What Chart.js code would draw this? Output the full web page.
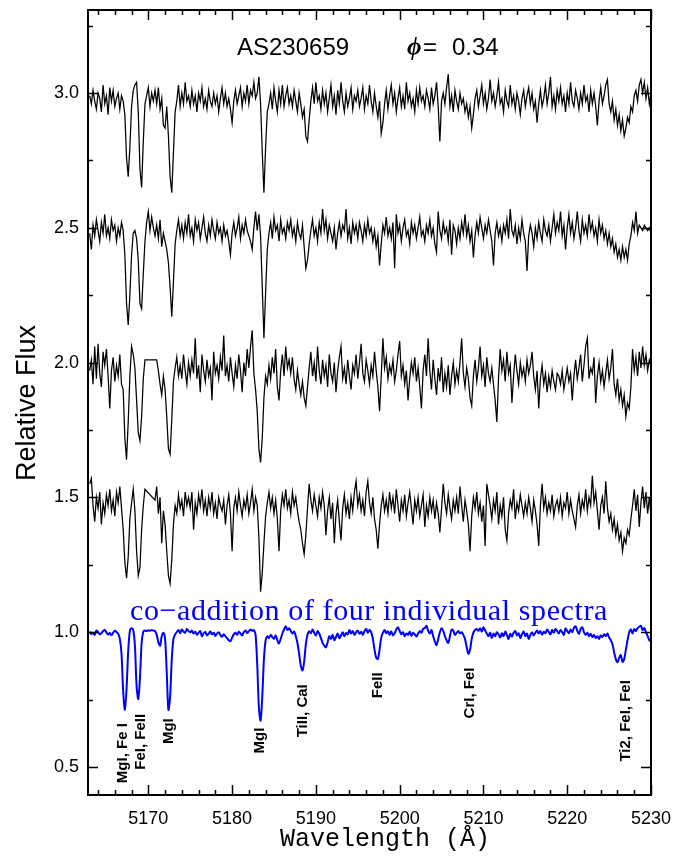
<!DOCTYPE html>
<html>
<head>
<meta charset="utf-8">
<title>AS230659 spectra</title>
<script src="https://cdn.jsdelivr.net/npm/chart.js@4.4.0/dist/chart.umd.min.js"></script>
<style>
  html, body { margin: 0; padding: 0; background: #fff; }
  #wrap { width: 690px; height: 857px; }
</style>
</head>
<body>
<div id="wrap"><canvas id="spec" width="690" height="857"></canvas></div>
<script>
// --- Data ---
// wavelength grid of the spectra (start + step, like CRVAL1/CDELT1)
const WAVE_START = 5163.0;
const WAVE_STEP = 0.2;

const X_TICKS = [5170, 5180, 5190, 5200, 5210, 5220, 5230];
const Y_TICKS = [0.5, 1.0, 1.5, 2.0, 2.5, 3.0];

// individual spectra, each offset by 0.5 in flux
const flux1 = [
  2.99,2.96,3.01,2.97,2.94,3.00,2.98,2.93,3.03,2.96,2.99,2.92,3.02,2.97,3.01,2.95,2.98,3.00,2.94,2.99,
  2.97,2.92,2.76,2.69,2.80,2.95,3.01,3.03,3.04,2.93,2.72,2.65,2.82,2.96,2.99,3.02,2.95,3.00,2.97,3.01,
  2.96,3.02,2.94,2.98,2.88,2.87,2.95,2.84,2.69,2.63,2.78,2.93,2.97,3.03,2.95,3.00,2.96,3.04,2.97,2.99,
  2.95,3.01,2.96,2.99,2.93,3.00,2.97,3.02,2.95,2.98,2.94,3.01,2.97,2.95,3.00,2.96,2.99,2.93,2.98,3.02,
  2.96,3.00,2.95,2.98,2.94,2.89,2.97,3.01,2.96,2.99,3.02,2.95,3.00,2.97,3.03,2.96,3.01,2.99,3.04,2.98,
  3.00,3.06,2.96,2.78,2.63,2.80,2.93,2.96,3.00,2.94,3.02,2.97,2.93,3.01,2.96,3.03,2.95,2.99,3.02,2.96,
  2.99,2.95,3.01,2.97,2.93,3.00,2.96,2.91,2.94,2.84,2.82,2.90,2.97,3.02,2.96,3.04,2.97,2.99,2.94,3.01,
  2.96,3.00,2.93,2.98,3.03,2.95,2.99,2.92,3.01,2.96,3.04,2.97,2.93,3.00,2.95,2.98,3.02,2.94,2.99,2.97,
  3.01,2.95,2.98,3.02,2.94,2.99,2.96,3.03,2.97,2.93,3.00,2.95,2.91,2.97,2.85,2.89,2.96,3.01,2.94,2.99,
  3.03,2.96,3.00,2.93,2.98,3.02,2.95,2.99,2.94,3.04,2.97,3.00,2.95,2.98,2.93,3.01,2.96,3.02,2.97,2.99,
  2.95,3.01,2.98,2.94,3.02,2.96,2.99,3.04,2.95,2.82,2.97,3.00,2.96,3.02,3.07,2.95,2.99,2.93,3.01,2.97,
  2.94,3.00,2.96,2.98,2.93,2.96,2.91,2.95,2.87,2.92,2.98,3.01,2.95,2.99,3.03,2.96,3.00,2.94,2.98,3.05,
  2.97,3.00,2.95,2.99,3.04,2.96,2.98,2.93,3.01,2.97,2.95,3.03,2.96,2.99,2.94,3.00,2.97,2.92,2.98,3.01,
  2.95,2.99,3.02,2.96,3.00,2.94,2.97,2.89,2.96,3.01,2.95,2.98,3.03,2.96,3.00,3.06,2.95,2.99,2.94,3.01,
  2.97,3.02,2.96,2.99,2.93,3.00,2.96,3.04,2.97,2.95,3.01,2.98,2.94,3.00,2.96,3.03,2.97,2.99,2.93,3.01,
  2.96,3.00,2.95,2.88,2.97,3.02,2.96,2.99,3.03,3.05,2.96,2.93,2.97,2.90,2.94,2.88,2.92,2.86,2.90,2.84,
  2.87,2.91,2.89,2.95,2.93,2.99,3.01,2.97,3.03,3.05,3.00,3.04,2.98,3.02,2.96,3.00
];

const flux2 = [
  2.48,2.42,2.51,2.47,2.53,2.49,2.45,2.52,2.48,2.55,2.47,2.50,2.46,2.53,2.49,2.51,2.45,2.50,2.47,2.52,
  2.49,2.40,2.22,2.14,2.25,2.40,2.48,2.49,2.46,2.38,2.22,2.20,2.33,2.45,2.52,2.56,2.49,2.54,2.50,2.47,
  2.51,2.46,2.53,2.43,2.48,2.45,2.42,2.37,2.28,2.17,2.30,2.44,2.49,2.53,2.47,2.51,2.46,2.52,2.48,2.55,
  2.47,2.50,2.45,2.53,2.49,2.52,2.46,2.50,2.54,2.48,2.45,2.51,2.47,2.53,2.49,2.46,2.52,2.48,2.50,2.45,
  2.51,2.47,2.49,2.45,2.40,2.48,2.52,2.47,2.50,2.54,2.46,2.51,2.48,2.53,2.49,2.47,2.45,2.42,2.50,2.56,
  2.49,2.55,2.47,2.28,2.09,2.26,2.42,2.48,2.52,2.46,2.54,2.49,2.51,2.45,2.53,2.48,2.50,2.46,2.52,2.49,
  2.53,2.47,2.50,2.45,2.52,2.48,2.46,2.51,2.43,2.35,2.38,2.44,2.49,2.53,2.47,2.50,2.45,2.52,2.48,2.57,
  2.49,2.53,2.46,2.51,2.48,2.45,2.50,2.42,2.48,2.52,2.47,2.51,2.49,2.57,2.46,2.50,2.44,2.52,2.48,2.51,
  2.46,2.52,2.49,2.45,2.51,2.47,2.53,2.48,2.50,2.45,2.49,2.43,2.47,2.36,2.44,2.51,2.48,2.54,2.47,2.50,
  2.46,2.52,2.35,2.55,2.48,2.51,2.45,2.50,2.53,2.47,2.49,2.44,2.52,2.48,2.51,2.46,2.50,2.54,2.47,2.49,
  2.45,2.51,2.48,2.53,2.47,2.50,2.44,2.41,2.56,2.49,2.46,2.52,2.48,2.50,2.45,2.53,2.40,2.51,2.49,2.44,
  2.50,2.46,2.52,2.48,2.55,2.47,2.51,2.45,2.49,2.39,2.47,2.52,2.48,2.54,2.50,2.46,2.51,2.48,2.53,2.49,
  2.45,2.36,2.48,2.52,2.47,2.50,2.45,2.51,2.48,2.53,2.46,2.57,2.49,2.47,2.51,2.44,2.50,2.46,2.53,2.48,
  2.45,2.34,2.47,2.51,2.48,2.43,2.50,2.46,2.52,2.48,2.45,2.53,2.49,2.47,2.51,2.45,2.50,2.55,2.48,2.52,
  2.49,2.56,2.47,2.51,2.42,2.50,2.55,2.48,2.52,2.46,2.50,2.56,2.49,2.45,2.53,2.48,2.51,2.47,2.55,2.49,
  2.52,2.47,2.50,2.45,2.53,2.48,2.51,2.46,2.49,2.44,2.48,2.43,2.46,2.41,2.44,2.39,2.42,2.38,2.43,2.39,
  2.42,2.38,2.44,2.47,2.52,2.49,2.56,2.48,2.51,2.50,2.49,2.51,2.50,2.49,2.50,2.48
];

// null = pixels missing in the original (bridged by a straight segment)
const flux3 = [
  1.97,2.01,1.92,2.06,1.94,2.07,1.96,1.91,2.04,1.99,2.05,1.95,1.83,1.97,2.02,1.93,1.99,1.95,2.03,1.92,
  1.90,1.72,1.64,1.78,1.95,2.06,2.03,1.98,1.86,1.74,1.71,1.80,1.94,2.01,null,null,null,null,null,null,
  2.01,1.97,1.92,1.88,1.95,1.90,1.80,1.68,1.66,1.79,1.93,1.98,2.02,1.95,1.99,1.94,2.03,1.97,1.92,2.00,
  1.95,2.01,1.96,2.09,1.94,1.99,1.89,2.03,1.97,1.93,2.01,1.95,1.98,1.86,2.04,1.96,1.99,1.94,2.02,1.97,
  2.10,1.95,1.99,1.93,2.02,1.96,1.91,1.99,1.94,2.03,1.97,1.89,2.00,1.95,2.05,1.98,2.06,2.12,1.96,1.90,
  1.82,1.68,1.63,1.72,1.87,1.95,1.92,1.99,1.94,2.02,1.96,2.05,1.91,1.86,1.97,2.03,1.95,2.06,1.98,2.01,
  1.96,2.02,1.94,1.90,1.97,1.92,1.88,1.93,1.87,1.84,1.91,1.98,2.04,1.95,2.00,1.93,2.06,1.97,1.92,2.01,
  1.95,1.99,1.91,2.03,1.96,1.93,2.00,1.89,1.97,2.02,2.06,1.94,1.98,1.92,2.01,1.95,1.90,1.99,1.96,2.03,
  1.94,2.00,2.07,1.96,1.93,2.01,1.97,1.92,1.99,1.95,2.04,1.97,1.91,1.82,1.95,2.09,1.98,2.02,1.94,1.99,
  1.96,2.01,1.93,1.97,2.03,2.08,1.95,1.99,1.92,1.97,1.86,1.94,2.00,1.96,2.02,1.93,1.98,1.91,1.83,1.97,
  2.03,1.95,2.09,1.97,1.90,2.01,1.94,1.88,1.98,1.93,2.02,1.89,1.96,1.91,1.99,1.88,1.95,2.00,1.92,1.97,
  1.93,2.00,2.09,1.96,1.91,1.98,1.94,1.87,1.84,1.95,2.01,1.93,1.98,2.06,1.95,1.99,1.91,2.02,1.96,1.93,
  1.98,1.92,1.86,1.78,1.94,2.05,1.97,2.01,1.93,2.04,1.96,1.99,1.85,1.95,2.03,1.97,1.92,2.00,1.95,1.98,
  1.93,2.01,1.96,1.99,2.04,1.95,1.90,1.97,1.83,1.94,1.99,1.92,1.96,1.89,1.95,1.91,1.97,1.93,1.90,1.96,
  1.95,1.92,1.97,1.90,1.94,1.98,1.93,1.96,1.86,1.95,2.01,1.94,1.98,2.03,1.93,1.99,2.06,2.09,1.94,1.98,
  1.96,2.02,1.85,1.95,2.00,1.93,1.97,1.91,1.96,2.01,1.94,1.98,2.05,1.92,1.88,1.94,1.86,1.90,1.84,1.88,
  1.80,1.85,1.83,1.91,2.05,1.97,2.02,1.95,2.04,1.98,2.06,1.99,2.03,1.97,2.01,1.99
];

const flux4 = [
  1.55,1.57,1.47,1.41,1.50,1.46,1.52,1.40,1.48,1.44,1.51,1.47,1.53,1.45,1.49,1.43,1.52,1.48,1.54,1.46,
  1.38,1.26,1.20,1.28,1.42,1.48,1.53,1.45,1.30,1.21,1.24,1.38,1.47,1.53,null,null,null,null,null,1.49,
  1.54,1.44,1.50,1.33,1.45,1.40,1.30,1.21,1.18,1.27,1.40,1.47,1.44,1.51,1.46,1.49,1.43,1.52,1.47,1.50,
  1.46,1.52,1.38,1.48,1.44,1.51,1.47,1.53,1.45,1.49,1.43,1.50,1.46,1.52,1.44,1.48,1.42,1.50,1.47,1.45,
  1.49,1.40,1.47,1.51,1.44,1.30,1.46,1.50,1.45,1.52,1.47,1.43,1.49,1.46,1.51,1.44,1.48,1.53,1.45,1.50,
  1.47,1.35,1.15,1.22,1.33,1.43,1.48,1.52,1.46,1.50,1.44,1.49,1.42,1.30,1.45,1.51,1.47,1.53,1.46,1.49,
  1.44,1.52,1.47,1.50,1.45,1.41,1.38,1.33,1.29,1.36,1.46,1.55,1.49,1.45,1.51,1.47,1.43,1.50,1.46,1.52,
  1.47,1.36,1.45,1.50,1.42,1.48,1.33,1.44,1.49,1.41,1.34,1.46,1.51,1.44,1.48,1.42,1.50,1.45,1.52,1.56,
  1.47,1.51,1.45,1.49,1.43,1.52,1.56,1.48,1.44,1.50,1.42,1.38,1.31,1.40,1.47,1.51,1.45,1.49,1.44,1.52,
  1.46,1.50,1.44,1.53,1.47,1.41,1.49,1.45,1.51,1.43,1.48,1.52,1.46,1.40,1.49,1.45,1.50,1.43,1.47,1.51,
  1.39,1.47,1.43,1.50,1.45,1.49,1.42,1.48,1.44,1.37,1.46,1.55,1.48,1.44,1.51,1.46,1.42,1.49,1.45,1.50,
  1.44,1.54,1.47,1.41,1.49,1.45,1.40,1.30,1.43,1.50,1.46,1.52,1.44,1.48,1.41,1.47,1.32,1.55,1.51,1.47,
  1.42,1.49,1.45,1.52,1.40,1.47,1.43,1.50,1.38,1.34,1.44,1.49,1.46,1.53,1.42,1.48,1.45,1.51,1.47,1.43,
  1.48,1.44,1.50,1.46,1.41,1.49,1.45,1.40,1.32,1.47,1.55,1.46,1.50,1.44,1.48,1.45,1.51,1.43,1.47,1.49,
  1.45,1.50,1.43,1.48,1.46,1.52,1.44,1.49,1.45,1.42,1.39,1.47,1.51,1.44,1.49,1.46,1.53,1.45,1.50,1.47,
  1.58,1.48,1.52,1.45,1.38,1.47,1.50,1.44,1.56,1.46,1.41,1.44,1.38,1.42,1.36,1.40,1.34,1.37,1.30,1.35,
  1.33,1.38,1.36,1.42,1.47,1.53,1.45,1.51,1.39,1.48,1.54,1.46,1.52,1.44,1.50,1.43
];

// co-addition of the four spectra (blue)
const coadd = [
  1.002,0.993,0.998,0.990,1.006,1.001,0.992,0.996,1.004,1.008,0.999,0.991,0.997,0.989,0.998,1.005,1.001,0.994,0.975,0.920,
  0.780,0.712,0.790,0.930,1.005,1.015,1.008,0.950,0.800,0.752,0.830,0.960,1.002,1.006,1.004,1.007,1.005,1.008,1.006,1.004,
  0.990,0.962,0.950,0.985,0.998,0.975,0.850,0.712,0.760,0.900,0.975,0.992,1.000,1.008,0.996,1.010,1.002,0.998,1.012,1.004,
  1.000,1.006,0.995,1.002,0.990,0.998,1.004,0.985,0.996,1.001,0.988,0.994,1.003,0.992,0.998,0.986,0.995,1.000,0.990,0.983,
  0.992,0.985,0.978,0.970,0.966,0.980,0.992,0.998,0.990,1.002,0.995,0.988,1.000,1.006,0.997,1.004,1.010,1.005,1.008,0.990,
  0.880,0.720,0.672,0.760,0.900,0.970,0.985,0.978,0.990,0.982,0.975,0.988,0.970,0.958,0.975,0.995,1.010,1.022,1.008,1.015,
  1.005,0.995,1.002,0.985,0.960,0.920,0.875,0.858,0.890,0.955,0.990,1.003,0.996,1.010,0.998,0.988,1.004,0.995,0.978,0.960,
  0.950,0.944,0.962,0.985,0.975,0.990,0.970,0.982,0.995,0.978,0.988,1.000,0.985,0.997,0.992,1.008,0.995,1.004,0.990,1.000,
  1.006,0.994,1.002,0.990,1.004,1.012,0.998,1.008,1.000,0.975,0.935,0.905,0.900,0.935,0.980,0.998,1.008,0.996,1.003,0.990,
  1.003,0.988,0.996,1.010,1.018,1.005,0.992,1.000,0.985,0.995,0.990,1.002,0.986,0.998,0.992,0.984,0.995,1.004,0.998,1.012,
  1.015,1.024,1.005,0.995,1.008,0.985,0.965,0.952,0.975,1.000,1.015,1.005,0.985,0.970,0.960,0.985,1.010,1.005,0.990,0.998,
  1.004,0.996,1.000,0.990,0.975,0.945,0.920,0.935,0.975,0.998,1.008,1.012,1.005,1.015,1.002,1.018,1.006,0.995,0.985,0.998,
  0.978,0.995,0.985,1.000,0.992,0.980,0.996,0.985,1.002,0.990,0.975,0.994,0.983,0.998,1.004,0.988,0.996,0.978,0.992,1.002,
  0.985,0.995,0.975,0.990,1.000,0.988,0.998,1.006,0.995,1.004,0.990,1.002,0.996,1.010,1.000,0.992,1.008,0.998,1.012,1.004,
  0.995,1.008,1.000,0.990,1.014,1.004,0.996,1.010,1.000,1.016,1.022,1.005,0.994,1.012,1.018,1.000,0.990,0.998,0.985,0.994,
  0.982,0.990,0.978,0.985,0.975,0.988,0.982,0.992,0.985,0.995,0.980,0.970,0.955,0.925,0.900,0.888,0.905,0.915,0.890,0.900,
  0.935,0.970,1.000,1.010,0.995,1.012,1.004,1.015,1.020,1.024,1.008,1.015,1.000,0.985,0.970,0.965
];

// line identifications: label text, wavelength, flux where the label starts
const LINE_IDS = ['MgI, Fe I', 'FeI, FeII', 'MgI', 'MgI', 'TiII, CaI', 'FeII', 'CrI, FeI', 'Ti2, FeI, FeI'];
const LINE_WAVES = [5166.95, 5169.1, 5172.4, 5183.35, 5188.5, 5197.45, 5208.4, 5226.95];
const LINE_LABEL_FLUX = [0.44, 0.49, 0.585, 0.55, 0.61, 0.755, 0.68, 0.52];

const X_MIN = 5162.8, X_MAX = 5230;
const Y_MIN = 0.396, Y_MAX = 3.308;

// --- build points ---
const WAVE = flux1.map((_, i) => +(WAVE_START + i * WAVE_STEP).toFixed(2));
const toPoints = arr => arr.map((v, i) => ({ x: WAVE[i], y: v }));

const spectrum = (data, color, width) => ({
    data: toPoints(data),
    borderColor: color,
    borderWidth: width,
    pointRadius: 0,
    tension: 0,
    spanGaps: true
});

// --- frame, inward ticks and the text of the figure ---
const decorations = {
    id: 'decorations',
    beforeDraw(chart) {
        const ctx = chart.ctx;
        ctx.save();
        ctx.fillStyle = '#fff';
        ctx.fillRect(0, 0, chart.width, chart.height);
        ctx.restore();
    },
    afterDatasetsDraw(chart) {
        const { ctx, chartArea: a, scales: { x, y } } = chart;
        ctx.save();
        ctx.strokeStyle = '#000';
        ctx.lineWidth = 1.5;
        ctx.beginPath();
        for (let v = 5164; v <= X_MAX; v += 2) {
            const px = Math.round(x.getPixelForValue(v)) + 0.5;
            const len = v % 10 === 0 ? 10 : 5;
            ctx.moveTo(px, a.bottom); ctx.lineTo(px, a.bottom - len);
            ctx.moveTo(px, a.top); ctx.lineTo(px, a.top + len);
        }
        for (let k = 2; k <= 13; k++) {
            const v = k * 0.25;
            const py = Math.round(y.getPixelForValue(v)) + 0.5;
            const len = k % 2 === 0 ? 10 : 5;
            ctx.moveTo(a.left, py); ctx.lineTo(a.left + len, py);
            ctx.moveTo(a.right, py); ctx.lineTo(a.right - len, py);
        }
        ctx.stroke();
        ctx.lineWidth = 2;
        ctx.strokeRect(a.left, a.top, a.right - a.left, a.bottom - a.top);
        ctx.restore();
    },
    afterDraw(chart) {
        const { ctx, scales: { x, y } } = chart;
        ctx.save();
        ctx.fillStyle = '#000';
        ctx.textBaseline = 'middle';

        // title
        ctx.textAlign = 'left';
        ctx.font = '24px "Liberation Sans"';
        ctx.fillText('AS230659', 237, 48);
        ctx.font = 'italic bold 25px "Liberation Serif"';
        ctx.fillText('\u03d5', 407, 49);
        ctx.font = '24px "Liberation Sans"';
        ctx.fillText('=', 423, 48);
        ctx.fillText('0.34', 452, 48);

        // axis titles
        ctx.textAlign = 'center';
        ctx.font = '25px "Liberation Mono"';
        ctx.fillText('Wavelength (\u00c5)', 385, 839);
        ctx.save();
        ctx.translate(28, 403);
        ctx.rotate(-Math.PI / 2);
        ctx.font = '27px "Liberation Sans"';
        ctx.fillText('Relative Flux', 0, 0);
        ctx.restore();

        // co-addition caption
        ctx.fillStyle = '#0000ff';
        ctx.font = '30px "Liberation Serif"';
        ctx.letterSpacing = '0.6px';
        ctx.fillText('co\u2212addition of four individual spectra', 369, 612);
        ctx.letterSpacing = '0px';

        // line identifications
        ctx.fillStyle = '#000';
        ctx.font = 'bold 15px "Liberation Sans"';
        ctx.textAlign = 'left';
        LINE_IDS.forEach((name, k) => {
            const px = x.getPixelForValue(LINE_WAVES[k]);
            const py = y.getPixelForValue(LINE_LABEL_FLUX[k]);
            ctx.save();
            ctx.translate(px, py);
            ctx.rotate(-Math.PI / 2);
            ctx.fillText(name, 0, 0);
            ctx.restore();
        });
        ctx.restore();
    }
};

new Chart(document.getElementById('spec'), {
    type: 'line',
    data: {
        datasets: [
            spectrum(flux1, '#000', 1.25),
            spectrum(flux2, '#000', 1.25),
            spectrum(flux3, '#000', 1.25),
            spectrum(flux4, '#000', 1.25),
            Object.assign(spectrum(coadd, '#0000ff', 2), { tension: 0.3 })
        ]
    },
    options: {
        responsive: false,
        animation: false,
        events: [],
        layout: { padding: { left: 0, right: 39, top: 10, bottom: 0 } },
        plugins: { legend: { display: false }, tooltip: { enabled: false } },
        scales: {
            x: {
                type: 'linear',
                min: X_MIN,
                max: X_MAX,
                afterBuildTicks: s => { s.ticks = X_TICKS.map(v => ({ value: v })); },
                afterFit: s => { s.height = 62; s.paddingLeft = 0; s.paddingRight = 0; },
                grid: { display: false, drawTicks: false },
                border: { display: false },
                ticks: {
                    color: '#000',
                    padding: 13,
                    maxRotation: 0,
                    font: { family: 'Liberation Sans', size: 18 },
                    callback: v => String(v)
                }
            },
            y: {
                type: 'linear',
                min: Y_MIN,
                max: Y_MAX,
                afterBuildTicks: s => { s.ticks = Y_TICKS.map(v => ({ value: v })); },
                afterFit: s => { s.width = 88; s.paddingTop = 0; s.paddingBottom = 0; },
                grid: { display: false, drawTicks: false },
                border: { display: false },
                ticks: {
                    color: '#000',
                    padding: 9,
                    font: { family: 'Liberation Sans', size: 18 },
                    callback: v => v.toFixed(1)
                }
            }
        }
    },
    plugins: [decorations]
});
</script>
</body>
</html>
